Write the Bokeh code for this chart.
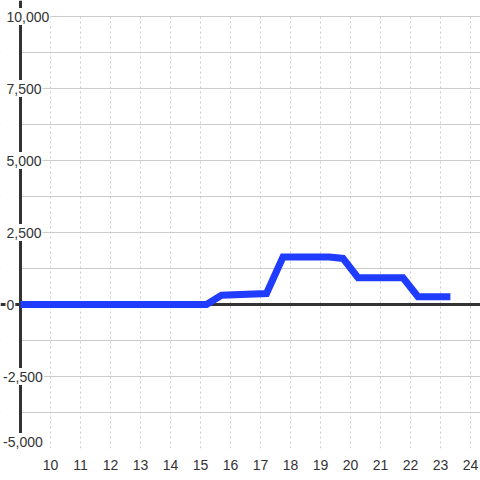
from bokeh.plotting import figure
from bokeh.models import Range1d, FixedTicker, Span, ColumnDataSource, BoxAnnotation
from bokeh.core.properties import value
from bokeh.embed import file_html
from bokeh.resources import INLINE

# ---- data ----
hours = [9.0, 15.2, 15.7, 17.2, 17.75, 19.3, 19.75, 20.25, 21.75, 22.25, 23.33]
values = [0, 0, 320, 380, 1650, 1650, 1600, 930, 930, 270, 270]

x_ticks = list(range(10, 25))
y_ticks = [-5000, -2500, 0, 2500, 5000, 7500, 10000]
y_minor = [-3750, -1250, 1250, 3750, 6250, 8750]
y_tick_labels = ["-5,000", "-2,500", "0", "2,500", "5,000", "7,500", "10,000"]

FONT = "Liberation Sans"
TXT = "#333333"
X0 = 9        # position of the vertical axis line
YMIN, YTOP = -5000, 10000
PX_X = 30                      # pixels per hour
PX_Y = 432 / (YTOP - YMIN)     # pixels per unit of value

p = figure(width=480, height=480, output_backend="svg", toolbar_location=None,
           x_range=Range1d(X0 - 20 / PX_X, 24 + 1 / 3),
           y_range=Range1d(YMIN, YTOP + 16 / PX_Y),
           min_border_left=0, min_border_right=0, min_border_top=0,
           min_border_bottom=32, background_fill_color="white",
           border_fill_color="white", outline_line_color=None)

# x axis
p.xaxis.ticker = FixedTicker(ticks=x_ticks)
p.xaxis.axis_line_color = None
p.xaxis.major_tick_line_color = None
p.xaxis.minor_tick_line_color = None
p.xaxis.major_label_text_font = FONT
p.xaxis.major_label_text_font_size = "14px"
p.xaxis.major_label_text_color = TXT
p.xaxis.major_label_standoff = 5

# y axis hidden; grid from its own ticker, labels drawn in-plot
p.yaxis.visible = False
p.ygrid.ticker = FixedTicker(ticks=y_ticks, minor_ticks=y_minor)

p.xgrid.grid_line_color = "#cccccc"
p.xgrid.grid_line_dash = "2 3"
p.xgrid.grid_line_width = 1
p.ygrid.grid_line_color = "#cccccc"
p.ygrid.minor_grid_line_color = "#cccccc"
p.ygrid.grid_line_width = 1

# blank strips: left of the axis line, and above the top tick
p.add_layout(BoxAnnotation(right=X0, fill_color="white", fill_alpha=1.0,
                           line_color=None, level="underlay"))
p.add_layout(BoxAnnotation(bottom=YTOP + 0.6 / PX_Y, fill_color="white",
                           fill_alpha=1.0, line_color=None, level="underlay"))

p.add_layout(Span(location=0, dimension="width", line_color="#333333",
                  line_width=3, level="underlay"))
p.add_layout(Span(location=X0, dimension="height", line_color="#333333",
                  line_width=3, level="underlay"))

p.line(hours, values, line_width=7, line_color="#1f3cff", line_join="miter")

# in-plot y tick labels on white boxes
CHAR_W = {"-": 4.7, ",": 3.9}
def text_w(s):
    return sum(CHAR_W.get(c, 7.8) for c in s)

lx, ly, bx, bw = [], [], [], []
for t, v in zip(y_tick_labels, y_ticks):
    start_px = 2.6 if t.startswith("-") else 6.0
    w = text_w(t)
    lx.append(X0 - (20 - start_px) / PX_X)
    bx.append(X0 - (20 - (start_px + w / 2)) / PX_X)
    bw.append(w + 2)
    ly.append(max(v, YMIN + 7 / PX_Y))

lab_src = ColumnDataSource(dict(x=lx, y=ly, bx=bx, bw=bw, text=y_tick_labels))
p.rect(x="bx", y="y", width="bw", height=17, width_units="screen",
       height_units="screen", source=lab_src, fill_color="white",
       line_color=None, level="annotation")
p.text(x="x", y="y", text="text", source=lab_src,
       text_font=value(FONT), text_font_size=value("14px"),
       text_color=TXT, text_align="left", text_baseline="middle",
       level="annotation")

open("out.html", "w").write(file_html(p, INLINE))
